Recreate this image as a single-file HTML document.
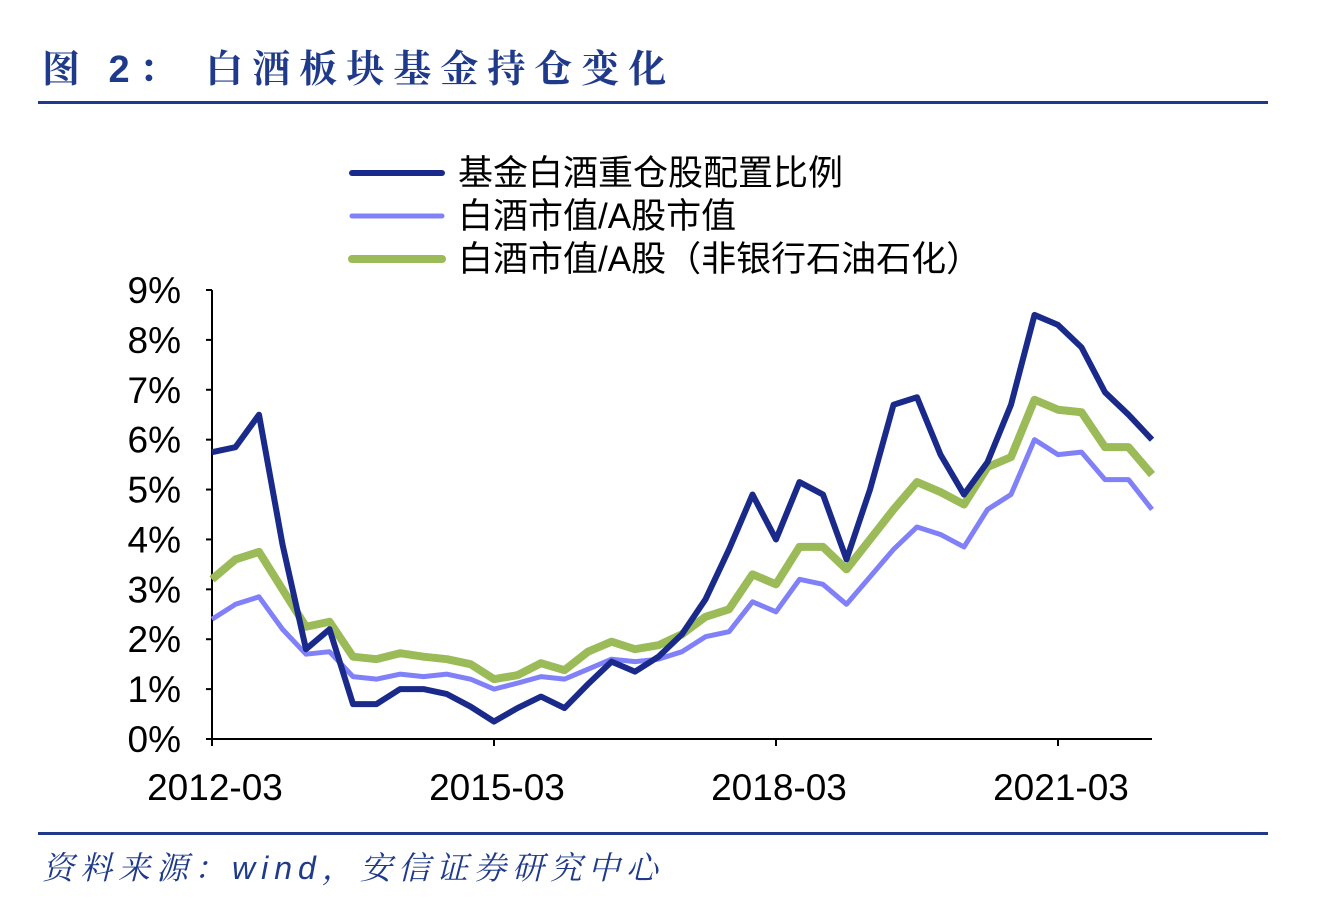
<!DOCTYPE html>
<html><head><meta charset="utf-8">
<style>
body{margin:0;background:#fff;width:1340px;height:914px;overflow:hidden;font-family:"Liberation Sans","Noto Sans CJK SC",sans-serif;}
#title{position:absolute;left:42px;top:38px;font-size:38px;font-weight:bold;color:#1f3a8a;letter-spacing:9px;font-family:"Liberation Sans","Noto Serif CJK SC",serif;}
.rule{position:absolute;left:38px;width:1230px;height:3px;background:#1f3a8a;}
#source{position:absolute;left:42px;top:843px;font-size:32px;font-style:italic;color:#1f3a8a;letter-spacing:6px;font-family:"Liberation Sans","Noto Serif CJK SC",serif;}
svg{position:absolute;left:0;top:0;}
</style></head><body>
<div id="title">图 2： 白酒板块基金持仓变化</div>
<div class="rule" style="top:101px"></div>
<div class="rule" style="top:832px"></div>
<div id="source">资料来源：wind，安信证券研究中心</div>
<svg id="chart" width="1340" height="914"></svg>
<script>
const xLabels=["2012-03","2015-03","2018-03","2021-03"];
const xLabelIdx=[0,12,24,36];
const yTicks=[0,1,2,3,4,5,6,7,8,9];
const seriesNames=["基金白酒重仓股配置比例","白酒市值/A股市值","白酒市值/A股（非银行石油石化）"];
const fundRatio=[5.75,5.85,6.5,3.9,1.8,2.2,0.7,0.7,1.0,1.0,0.9,0.65,0.35,0.62,0.85,0.62,1.1,1.55,1.35,1.65,2.1,2.8,3.8,4.9,4.0,5.15,4.9,3.6,5.0,6.7,6.85,5.7,4.9,5.55,6.7,8.5,8.3,7.85,6.95,6.5,6.0];
const liquorShare=[2.4,2.7,2.85,2.2,1.7,1.75,1.25,1.2,1.3,1.25,1.3,1.2,1.0,1.12,1.25,1.2,1.4,1.6,1.55,1.6,1.75,2.05,2.15,2.75,2.55,3.2,3.1,2.7,3.25,3.8,4.25,4.1,3.85,4.6,4.9,6.0,5.7,5.75,5.2,5.2,4.6];
const liquorShareEx=[3.2,3.6,3.75,3.0,2.25,2.35,1.65,1.6,1.72,1.65,1.6,1.5,1.2,1.28,1.52,1.38,1.75,1.95,1.8,1.88,2.1,2.45,2.6,3.3,3.1,3.85,3.85,3.4,4.0,4.6,5.15,4.95,4.7,5.45,5.65,6.8,6.6,6.55,5.85,5.85,5.3];
const colors=["#1a2a8a","#8080f8","#9bbb59"];
const widths=[6,5,8];
const NS="http://www.w3.org/2000/svg";
const svg=document.getElementById('chart');
const X0=212,X1=1152,Y0=739,Y9=290;
const n=fundRatio.length;
const xs=i=>X0+i*(X1-X0)/(n-1);
const ys=v=>Y0-v*(Y0-Y9)/9;
function mk(t,a){const e=document.createElementNS(NS,t);for(const k in a)e.setAttribute(k,a[k]);svg.appendChild(e);return e;}
let ax=mk('line',{x1:X0,y1:Y9,x2:X0,y2:Y0,stroke:'#000','stroke-width':2});


let bx=mk('line',{x1:X0,y1:Y0,x2:X1,y2:Y0,stroke:'#000','stroke-width':2});


yTicks.forEach(v=>{
  const t=mk('line',{x1:X0-6,x2:X0,y1:ys(v),y2:ys(v),stroke:'#000','stroke-width':2});
  
  
  const l=mk('text',{x:X0-31,y:ys(v)+13,'text-anchor':'end','font-size':37,fill:'#000'});
  l.textContent=v+'%';
  
  
});
xLabelIdx.forEach((idx,k)=>{
  const t=mk('line',{x1:xs(idx),x2:xs(idx),y1:Y0,y2:Y0+7,stroke:'#000','stroke-width':2});
  
  
  const l=mk('text',{x:xs(idx)+3,y:Y0+61,'text-anchor':'middle','font-size':37,fill:'#000'});
  l.textContent=xLabels[k];
  
  
});
[liquorShare,liquorShareEx,fundRatio].forEach((arr)=>{
  const si=[fundRatio,liquorShare,liquorShareEx].indexOf(arr);
  const p=mk('polyline',{points:arr.map((v,i)=>xs(i)+','+ys(v)).join(' '),fill:'none',stroke:colors[si],'stroke-width':widths[si],'stroke-linejoin':'round'});
  
  
});
seriesNames.forEach((nm,i)=>{
  const y=173+i*43;
  const l=mk('line',{x1:352,x2:442,y1:y,y2:y,stroke:colors[i],'stroke-width':widths[i],'stroke-linecap':'round'});
  
  
  const t=mk('text',{x:458,y:y+12,'font-size':35,fill:'#000'});
  t.textContent=nm;
  
  
});
</script>
</body></html>
